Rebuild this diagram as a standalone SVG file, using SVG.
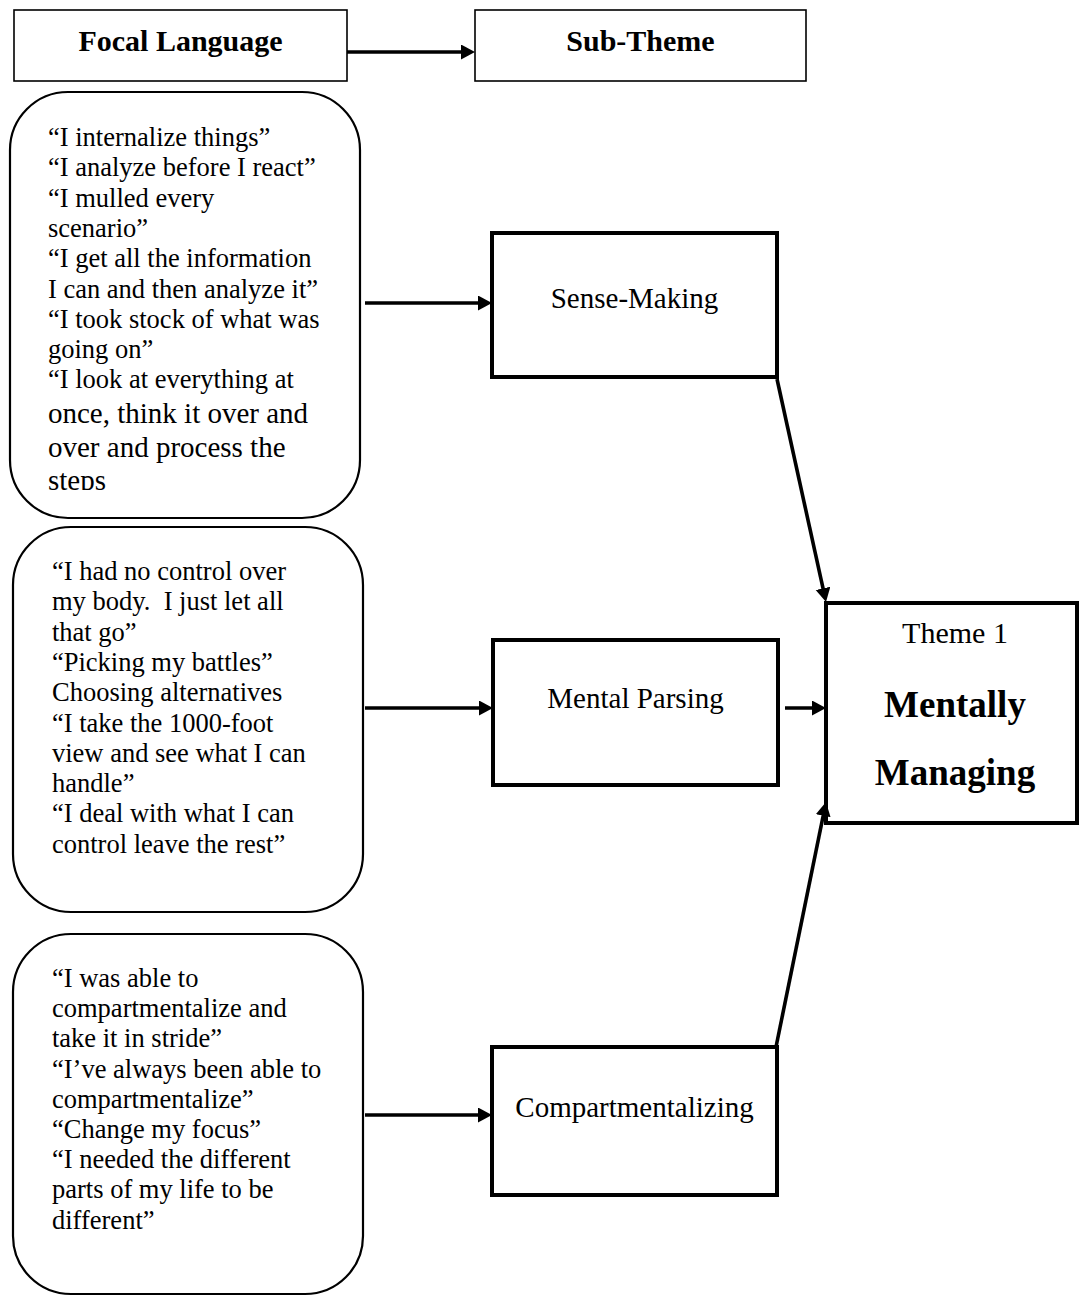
<svg xmlns="http://www.w3.org/2000/svg" width="1079" height="1296" viewBox="0 0 1079 1296">
<style>
  text { font-family: "Liberation Serif", "Times New Roman", serif; fill: #000; }
  .hdr { font-size: 30px; font-weight: bold; text-anchor: middle; }
  .quote { font-size: 26.5px; }
  .quoteL { font-size: 29px; }
  .sub { font-size: 29px; text-anchor: middle; }
  .thin { fill: #fff; stroke: #000; stroke-width: 1.6; }
  .round { fill: #fff; stroke: #000; stroke-width: 2.2; }
  .thick { fill: #fff; stroke: #000; stroke-width: 4; }
  .conn { stroke: #000; stroke-width: 3.6; fill: none; marker-end: url(#ah); }
</style>
<defs>
  <marker id="ah" markerUnits="userSpaceOnUse" markerWidth="16" markerHeight="16" refX="6" refY="7.5" orient="auto">
    <path d="M0,0 L14,7.5 L0,15 Z" fill="#000"/>
  </marker>
  <clipPath id="clip1"><rect x="0" y="92" width="370" height="398"/></clipPath>
</defs>

<g id="focal-language">
  <rect class="thin" x="14" y="10" width="333" height="71"/>
  <text class="hdr" x="180.5" y="51">Focal Language</text>
</g>
<g id="sub-theme-header">
  <rect class="thin" x="475" y="10" width="331" height="71"/>
  <text class="hdr" x="640.5" y="51">Sub-Theme</text>
</g>

<g id="quotes-1">
  <rect class="round" x="10" y="92" width="350" height="426" rx="58" ry="58"/>
  <g clip-path="url(#clip1)">
    <text class="quote" x="48" y="146">“I internalize things”</text>
    <text class="quote" x="48" y="176.3">“I analyze before I react”</text>
    <text class="quote" x="48" y="206.6">“I mulled every</text>
    <text class="quote" x="48" y="236.9">scenario”</text>
    <text class="quote" x="48" y="267.2">“I get all the information</text>
    <text class="quote" x="48" y="297.5">I can and then analyze it”</text>
    <text class="quote" x="48" y="327.8">“I took stock of what was</text>
    <text class="quote" x="48" y="358.1">going on”</text>
    <text class="quote" x="48" y="388.4">“I look at everything at</text>
    <text class="quoteL" x="48" y="423">once, think it over and</text>
    <text class="quoteL" x="48" y="456.5">over and process the</text>
    <text class="quoteL" x="48" y="490">steps</text>
  </g>
</g>

<g id="quotes-2">
  <rect class="round" x="13" y="527" width="350" height="385" rx="58" ry="58"/>
  <text class="quote" x="52" y="580">“I had no control over</text>
  <text class="quote" x="52" y="610.3">my body.&#160; I just let all</text>
  <text class="quote" x="52" y="640.6">that go”</text>
  <text class="quote" x="52" y="670.9">“Picking my battles”</text>
  <text class="quote" x="52" y="701.2">Choosing alternatives</text>
  <text class="quote" x="52" y="731.5">“I take the 1000-foot</text>
  <text class="quote" x="52" y="761.8">view and see what I can</text>
  <text class="quote" x="52" y="792.1">handle”</text>
  <text class="quote" x="52" y="822.4">“I deal with what I can</text>
  <text class="quote" x="52" y="852.7">control leave the rest”</text>
</g>

<g id="quotes-3">
  <rect class="round" x="13" y="934" width="350" height="360" rx="58" ry="58"/>
  <text class="quote" x="52" y="987">“I was able to</text>
  <text class="quote" x="52" y="1017.2">compartmentalize and</text>
  <text class="quote" x="52" y="1047.4">take it in stride”</text>
  <text class="quote" x="52" y="1077.6">“I’ve always been able to</text>
  <text class="quote" x="52" y="1107.8">compartmentalize”</text>
  <text class="quote" x="52" y="1138">“Change my focus”</text>
  <text class="quote" x="52" y="1168.2">“I needed the different</text>
  <text class="quote" x="52" y="1198.4">parts of my life to be</text>
  <text class="quote" x="52" y="1228.6">different”</text>
</g>

<g id="sense-making">
  <rect class="thick" x="492" y="233" width="285" height="144"/>
  <text class="sub" x="634.5" y="308">Sense-Making</text>
</g>
<g id="mental-parsing">
  <rect class="thick" x="493" y="640" width="285" height="145"/>
  <text class="sub" x="635.5" y="708">Mental Parsing</text>
</g>
<g id="compartmentalizing">
  <rect class="thick" x="492" y="1047" width="285" height="148"/>
  <text class="sub" x="634.5" y="1117">Compartmentalizing</text>
</g>

<g id="theme-1">
  <rect class="thick" x="826" y="603" width="251" height="220"/>
  <text x="955" y="643" style="font-size:30px;text-anchor:middle">Theme 1</text>
  <text x="955" y="717" style="font-size:37px;font-weight:bold;text-anchor:middle">Mentally</text>
  <text x="955" y="785" style="font-size:37px;font-weight:bold;text-anchor:middle">Managing</text>
</g>

<g id="connectors">
  <line class="conn" x1="347" y1="52" x2="467" y2="52"/>
  <line class="conn" x1="365" y1="303" x2="484" y2="303"/>
  <line class="conn" x1="365" y1="708" x2="485" y2="708"/>
  <line class="conn" x1="365" y1="1115" x2="484" y2="1115"/>
  <line class="conn" x1="785" y1="708" x2="818" y2="708"/>
  <line class="conn" x1="777" y1="379" x2="824.3" y2="594.2"/>
  <line class="conn" x1="776" y1="1047" x2="824.4" y2="809.8"/>
</g>
</svg>
